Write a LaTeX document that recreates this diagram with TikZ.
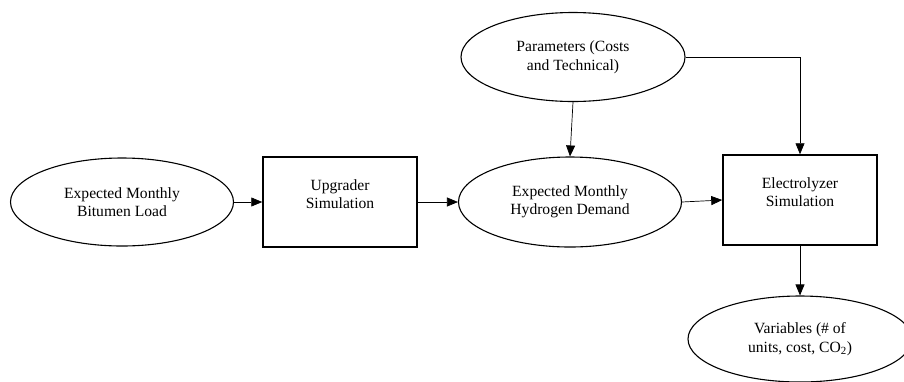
\documentclass[tikz,border=0pt]{standalone}
\usepackage{fontspec}
\setmainfont{Liberation Serif}
\usetikzlibrary{arrows.meta,shapes.geometric}

\begin{document}
\begin{tikzpicture}
  [x=1pt,y=1pt,>={Triangle[length=11pt,width=9pt]},
   every node/.style={font=\fontsize{15.6}{18.5}\selectfont,align=center},
   inp/.style={ellipse,draw,line width=1.1pt,inner sep=0pt},
   sim/.style={rectangle,draw,line width=1.5pt,minimum width=154pt,minimum height=90pt},
   link/.style={->,line width=0.7pt}]
  \useasboundingbox (0,0) rectangle (904,-381);
  \node[inp,minimum width=223pt,minimum height=88pt] (bitumen) at (122,-202) {Expected Monthly\\Bitumen Load};
  \node[sim] (upgrader) at (340,-202) {};
  \node (upgtext) at (340,-194) {Upgrader\\Simulation};
  \node[inp,minimum width=223pt,minimum height=90pt] (hydrogen) at (570,-202) {Expected Monthly\\Hydrogen Demand};
  \node[inp,minimum width=224pt,minimum height=89pt] (params) at (573,-57) {Parameters (Costs\\and Technical)};
  \node[sim] (electro) at (800,-200) {};
  \node (eletext) at (800,-192) {Electrolyzer\\Simulation};
  \node[inp,minimum width=224pt,minimum height=86pt] (vars) at (800,-339) {Variables (\# of\\units, cost, CO\textsubscript{2})};


  \draw[link] (bitumen) -- (upgrader);
  \draw[link] (upgrader) -- (hydrogen);
  \draw[link] (hydrogen.east) -- (electro.west);
  \draw[link] (params.south) -- (hydrogen.north);
  \draw[link] (params.east) -| (electro.north);
  \draw[link] (electro.south) -- (vars.north);

\end{tikzpicture}
\end{document}
